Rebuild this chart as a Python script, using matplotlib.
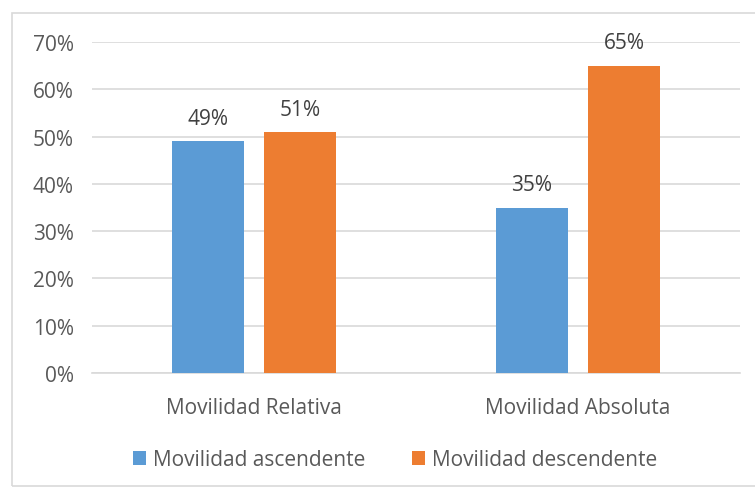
import matplotlib
matplotlib.use("Agg")
import matplotlib.pyplot as plt
from matplotlib.patches import Rectangle
import numpy as np

plt.rcParams["font.family"] = ["Open Sans", "DejaVu Sans"]

categories = ["Movilidad Relativa", "Movilidad Absoluta"]
ascendente = [0.49, 0.35]
descendente = [0.51, 0.65]
series_names = ["Movilidad ascendente", "Movilidad descendente"]
yticks = [0, 0.1, 0.2, 0.3, 0.4, 0.5, 0.6, 0.7]

BLUE = "#5B9BD5"
ORANGE = "#ED7D31"
TXT = "#595959"
GRID = "#D9D9D9"
FS = 15

fig = plt.figure(figsize=(7.55, 4.89), dpi=100)
fig.patch.set_facecolor("white")
# outer chart border
fig.patches.append(Rectangle((12 / 755, 2 / 489), 760 / 755, 473 / 489,
                             transform=fig.transFigure, fill=False,
                             edgecolor="#D9D9D9", linewidth=1.2))

ax = fig.add_axes([92 / 755, 1 - 374 / 489, 648 / 755, (374 - 43) / 489])
x = np.arange(len(categories))
w = 0.225
off = 0.142
b1 = ax.bar(x - off, ascendente, w, color=BLUE, label=series_names[0], zorder=3)
b2 = ax.bar(x + off, descendente, w, color=ORANGE, label=series_names[1], zorder=3)

for bars in (b1, b2):
    for r in bars:
        ax.text(r.get_x() + r.get_width() / 2, r.get_height() + 0.026,
                f"{r.get_height() * 100:.0f}%", ha="center", va="bottom",
                fontsize=FS, color="#404040")

ax.set_xlim(-0.5, 1.5)
ax.set_ylim(0, 0.7)
ax.set_yticks(yticks)
ax.set_yticklabels([f"{v * 100:.0f}%" for v in yticks])
ax.set_xticks(x)
ax.set_xticklabels(categories)
ax.yaxis.grid(True, color=GRID, linewidth=1.2, zorder=0)
ax.tick_params(axis="both", length=0, colors=TXT, labelsize=FS)
ax.tick_params(axis="y", pad=13)
ax.tick_params(axis="x", pad=17)
for s in ("top", "right", "left"):
    ax.spines[s].set_visible(False)
ax.spines["bottom"].set_color(GRID)
ax.spines["bottom"].set_linewidth(1.2)

leg = fig.legend(loc="center", bbox_to_anchor=(395 / 755, 1 - 461 / 489), ncol=2,
                 frameon=False, fontsize=FS, handlelength=0.63, handleheight=0.63,
                 handletextpad=0.33, columnspacing=2.25, labelcolor=TXT)

fig.savefig("out.png", dpi=100)
